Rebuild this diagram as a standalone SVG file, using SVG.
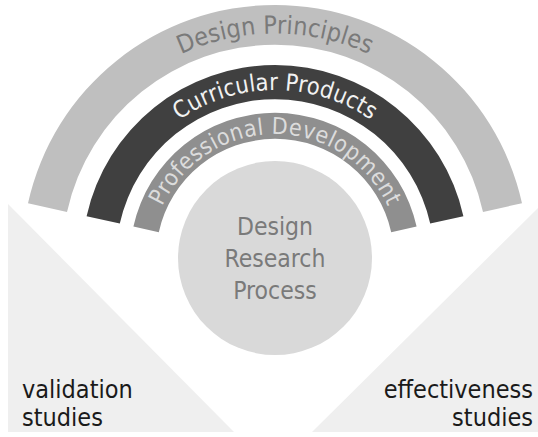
<svg xmlns="http://www.w3.org/2000/svg" width="538" height="437" viewBox="0 0 538 437">
<style>
  .t { font-family: "DejaVu Sans Condensed", "DejaVu Sans", "Liberation Sans", sans-serif; font-stretch: condensed; }
  .bottom { font-size: 25px; fill: #1a1a1a; }
  .center { font-size: 24.5px; fill: #7a7a7a; text-anchor: middle; }
  .arc { text-anchor: middle; }
</style>
<defs>
  <path id="pDP" d="M 50.5 258 A 224.5 224.5 0 0 1 499.5 258"/>
  <path id="pCP" d="M 107 258 A 168 168 0 0 1 443 258"/>
  <path id="pPD" d="M 151 258 A 124 124 0 0 1 399 258"/>
</defs>
<rect width="538" height="437" fill="#ffffff"/>
<g id="validation">
  <polygon points="8,204 8,432 234,432" fill="#efefef"/>
  <text class="t bottom" x="22" y="398">validation</text>
  <text class="t bottom" x="22" y="426">studies</text>
</g>
<g id="effectiveness">
  <polygon points="538,208 538,432 312,432" fill="#efefef"/>
  <text class="t bottom" x="533" y="398" text-anchor="end">effectiveness</text>
  <text class="t bottom" x="533" y="426" text-anchor="end">studies</text>
</g>
<g id="design-principles">
  <path d="M 28.0 203.2 A 253 253 0 0 1 522.0 203.2 L 483.0 211.9 A 213 213 0 0 0 67.0 211.9 Z" fill="#bfbfbf"/>
  <text class="t arc" font-size="25" fill="#7a7a7a"><textPath href="#pDP" startOffset="50%" textLength="194" lengthAdjust="spacing">Design Principles</textPath></text>
</g>
<g id="curricular-products">
  <path d="M 86.6 216.2 A 193 193 0 0 1 463.4 216.2 L 430.2 223.6 A 159 159 0 0 0 119.8 223.6 Z" fill="#404040"/>
  <text class="t arc" font-size="23.5" fill="#f2f2f2"><textPath href="#pCP" startOffset="50%" textLength="204" lengthAdjust="spacing">Curricular Products</textPath></text>
</g>
<g id="professional-development">
  <path d="M 133.4 226.6 A 145 145 0 0 1 416.6 226.6 L 391.2 232.2 A 119 119 0 0 0 158.8 232.2 Z" fill="#8f8f8f"/>
  <text class="t arc" font-size="23" fill="#dcdcdc"><textPath href="#pPD" startOffset="50%" textLength="283" lengthAdjust="spacing">Professional Development</textPath></text>
</g>
<g id="design-research-process">
  <circle cx="275" cy="258" r="97" fill="#d9d9d9"/>
  <text class="t center" x="275" y="235">Design</text>
  <text class="t center" x="275" y="267">Research</text>
  <text class="t center" x="275" y="299">Process</text>
</g>
<g id="connectors"/>
</svg>
